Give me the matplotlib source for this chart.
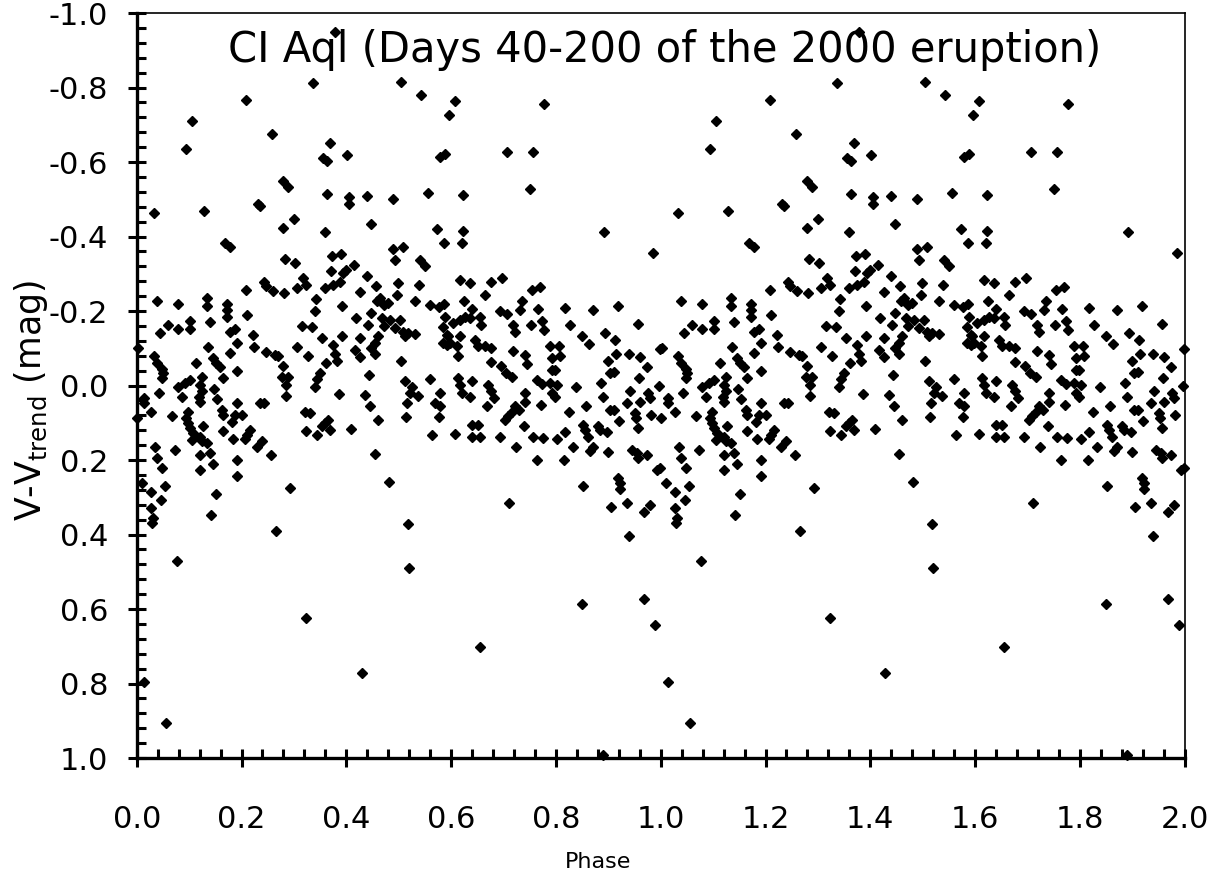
import numpy as np
import matplotlib
matplotlib.use("Agg")
from matplotlib import pyplot as plt
from matplotlib.ticker import MultipleLocator, FormatStrFormatter

plt.rcParams["axes.unicode_minus"] = False
plt.rcParams["mathtext.default"] = "regular"
plt.rcParams["font.family"] = ["DejaVu Sans"]

TITLE = "CI Aql (Days 40-200 of the 2000 eruption)"

# (phase, V - V_trend) for one cycle; the plot shows it twice (phase and phase + 1)
bright_outliers = [
    (0.378, -0.950), (0.336, -0.812), (0.505, -0.816), (0.208, -0.767), (0.106, -0.711),
    (0.258, -0.675), (0.094, -0.636), (0.369, -0.652), (0.355, -0.610), (0.364, -0.604),
    (0.401, -0.619), (0.280, -0.548), (0.289, -0.534), (0.363, -0.514), (0.405, -0.505),
    (0.405, -0.488), (0.440, -0.510), (0.490, -0.501), (0.033, -0.463), (0.128, -0.468),
    (0.232, -0.488), (0.236, -0.483), (0.301, -0.448), (0.279, -0.423), (0.360, -0.413),
    (0.447, -0.433), (0.169, -0.383), (0.178, -0.372), (0.543, -0.779), (0.607, -0.765),
    (0.596, -0.726), (0.777, -0.757), (0.579, -0.613), (0.588, -0.622), (0.707, -0.626),
    (0.757, -0.626), (0.555, -0.516), (0.623, -0.511), (0.751, -0.527), (0.573, -0.420),
    (0.623, -0.415), (0.892, -0.413),
]

faint_outliers = [
    (0.076, 0.470), (0.324, 0.625), (0.429, 0.772), (0.014, 0.795), (0.056, 0.905),
    (0.520, 0.490), (0.656, 0.702), (0.849, 0.587), (0.968, 0.573), (0.989, 0.643),
    (0.889, 0.991), (0.265, 0.390), (0.517, 0.372), (0.711, 0.316), (0.940, 0.405),
    (0.482, 0.260), (0.293, 0.275),
]

band_a = [
    (0.038, -0.227), (0.079, -0.219), (0.134, -0.235), (0.134, -0.214), (0.172, -0.219),
    (0.172, -0.203), (0.172, -0.184), (0.060, -0.163), (0.044, -0.141), (0.078, -0.153),
    (0.102, -0.174), (0.102, -0.153), (0.140, -0.171), (0.178, -0.145), (0.188, -0.151),
    (0.191, -0.114), (0.137, -0.103), (0.003, -0.100), (0.178, -0.087), (0.033, -0.078),
    (0.038, -0.060), (0.048, -0.044), (0.051, -0.033), (0.049, -0.020), (0.113, -0.060),
    (0.146, -0.074), (0.151, -0.060), (0.159, -0.051), (0.165, -0.021), (0.191, -0.038),
    (0.102, -0.015), (0.092, -0.006), (0.079, 0.003), (0.124, -0.024), (0.121, -0.002),
    (0.124, 0.016), (0.118, 0.030), (0.121, 0.043), (0.086, 0.030), (0.043, 0.020),
    (0.148, 0.010), (0.153, 0.036), (0.013, 0.034), (0.013, 0.047), (0.027, 0.070),
    (0.191, 0.047), (0.188, 0.079), (0.181, 0.097), (0.067, 0.083), (0.098, 0.070),
    (0.095, 0.088), (0.098, 0.101), (0.102, 0.114), (0.108, 0.128), (0.105, 0.146),
    (0.127, 0.110), (0.121, 0.137), (0.124, 0.150), (0.134, 0.155), (0.139, 0.180),
    (0.121, 0.186), (0.162, 0.065), (0.165, 0.079), (0.165, 0.123), (0.184, 0.144),
    (0.000, 0.088), (0.035, 0.165), (0.038, 0.195), (0.073, 0.173), (0.048, 0.222),
    (0.121, 0.226), (0.146, 0.211), (0.191, 0.199), (0.191, 0.244), (0.010, 0.262),
    (0.027, 0.285), (0.054, 0.271), (0.046, 0.307), (0.027, 0.329), (0.032, 0.356),
    (0.029, 0.369), (0.151, 0.292), (0.142, 0.347),
]

band_b = [
    (0.283, -0.340), (0.302, -0.329), (0.372, -0.348), (0.390, -0.354), (0.371, -0.308),
    (0.242, -0.279), (0.246, -0.266), (0.261, -0.255), (0.208, -0.257), (0.281, -0.248),
    (0.305, -0.261), (0.318, -0.288), (0.324, -0.270), (0.359, -0.261), (0.375, -0.270),
    (0.388, -0.279), (0.394, -0.302), (0.343, -0.232), (0.340, -0.201), (0.391, -0.214),
    (0.210, -0.188), (0.315, -0.160), (0.334, -0.156), (0.354, -0.127), (0.391, -0.133),
    (0.221, -0.136), (0.223, -0.103), (0.246, -0.091), (0.264, -0.082), (0.270, -0.080),
    (0.280, -0.053), (0.306, -0.103), (0.326, -0.078), (0.375, -0.109), (0.378, -0.085),
    (0.382, -0.067), (0.361, -0.060), (0.277, -0.024), (0.288, -0.024), (0.285, -0.002),
    (0.284, 0.028), (0.350, -0.033), (0.345, -0.017), (0.340, 0.004), (0.387, 0.023),
    (0.200, 0.079), (0.235, 0.046), (0.242, 0.047), (0.321, 0.070), (0.331, 0.074),
    (0.359, 0.101), (0.366, 0.092), (0.369, 0.119), (0.353, 0.108), (0.324, 0.123),
    (0.345, 0.132), (0.216, 0.119), (0.210, 0.132), (0.207, 0.144), (0.239, 0.148),
    (0.229, 0.164), (0.256, 0.187),
]

band_c = [
    (0.587, -0.382), (0.490, -0.366), (0.509, -0.372), (0.493, -0.337), (0.415, -0.324),
    (0.541, -0.336), (0.550, -0.321), (0.399, -0.311), (0.439, -0.293), (0.457, -0.268),
    (0.499, -0.275), (0.539, -0.270), (0.426, -0.250), (0.497, -0.243), (0.464, -0.235),
    (0.458, -0.226), (0.471, -0.217), (0.480, -0.221), (0.531, -0.227), (0.560, -0.217),
    (0.576, -0.210), (0.586, -0.219), (0.418, -0.181), (0.447, -0.194), (0.442, -0.163),
    (0.468, -0.181), (0.483, -0.176), (0.471, -0.160), (0.502, -0.176), (0.493, -0.154),
    (0.509, -0.145), (0.518, -0.141), (0.531, -0.139), (0.512, -0.132), (0.588, -0.185),
    (0.585, -0.158), (0.592, -0.136), (0.585, -0.114), (0.592, -0.109), (0.426, -0.127),
    (0.461, -0.132), (0.455, -0.114), (0.448, -0.100), (0.455, -0.085), (0.417, -0.096),
    (0.427, -0.076), (0.504, -0.067), (0.444, -0.027), (0.512, -0.011), (0.525, 0.003),
    (0.522, 0.020), (0.537, 0.027), (0.560, -0.018), (0.579, 0.020), (0.569, 0.047),
    (0.579, 0.056), (0.577, 0.085), (0.436, 0.025), (0.445, 0.054), (0.515, 0.047),
    (0.514, 0.085), (0.460, 0.092), (0.409, 0.117), (0.563, 0.134), (0.455, 0.183),
]

band_d = [
    (0.620, -0.382), (0.617, -0.284), (0.636, -0.275), (0.676, -0.279), (0.697, -0.288),
    (0.665, -0.243), (0.625, -0.227), (0.754, -0.257), (0.770, -0.264), (0.735, -0.227),
    (0.731, -0.203), (0.765, -0.205), (0.639, -0.205), (0.636, -0.181), (0.627, -0.184),
    (0.617, -0.176), (0.604, -0.169), (0.655, -0.184), (0.657, -0.163), (0.693, -0.199),
    (0.706, -0.192), (0.719, -0.163), (0.722, -0.145), (0.752, -0.163), (0.774, -0.174),
    (0.778, -0.150), (0.595, -0.133), (0.617, -0.133), (0.598, -0.114), (0.611, -0.105),
    (0.614, -0.078), (0.646, -0.123), (0.652, -0.105), (0.665, -0.107), (0.677, -0.100),
    (0.676, -0.064), (0.719, -0.094), (0.741, -0.082), (0.744, -0.058), (0.789, -0.105),
    (0.792, -0.074), (0.695, -0.053), (0.704, -0.033), (0.716, -0.024), (0.614, -0.020),
    (0.617, -0.002), (0.620, 0.020), (0.636, 0.030), (0.639, -0.011), (0.671, -0.002),
    (0.676, 0.016), (0.682, 0.034), (0.668, 0.056), (0.763, -0.015), (0.773, -0.005),
    (0.789, -0.006), (0.793, -0.042), (0.792, 0.020), (0.741, 0.019), (0.741, 0.043),
    (0.772, 0.052), (0.722, 0.056), (0.730, 0.065), (0.716, 0.072), (0.709, 0.083),
    (0.703, 0.092), (0.739, 0.110), (0.607, 0.130), (0.639, 0.105), (0.652, 0.105),
    (0.639, 0.137), (0.655, 0.137), (0.693, 0.137), (0.723, 0.165), (0.757, 0.137),
    (0.776, 0.141), (0.763, 0.199),
]

band_e = [
    (0.986, -0.355), (0.817, -0.209), (0.870, -0.203), (0.918, -0.214), (0.956, -0.166),
    (0.827, -0.163), (0.850, -0.134), (0.864, -0.111), (0.894, -0.141), (0.913, -0.123),
    (0.805, -0.107), (0.808, -0.078), (0.798, -0.042), (0.802, -0.002), (0.798, 0.030),
    (0.915, -0.085), (0.940, -0.084), (0.961, -0.076), (0.973, -0.051), (0.899, -0.066),
    (0.999, -0.098), (0.903, -0.033), (0.910, -0.035), (0.959, -0.021), (0.838, 0.003),
    (0.887, -0.006), (0.890, 0.030), (0.941, 0.014), (0.935, 0.047), (0.961, 0.045),
    (0.976, 0.019), (0.980, 0.034), (0.997, 0.001), (0.857, 0.054), (0.825, 0.072),
    (0.903, 0.065), (0.910, 0.065), (0.951, 0.074), (0.953, 0.088), (0.981, 0.079),
    (0.920, 0.095), (0.957, 0.113), (0.852, 0.105), (0.856, 0.119), (0.862, 0.137),
    (0.881, 0.110), (0.884, 0.119), (0.897, 0.125), (0.817, 0.126), (0.803, 0.144),
    (0.833, 0.165), (0.871, 0.164), (0.865, 0.175), (0.900, 0.178), (0.945, 0.173),
    (0.954, 0.182), (0.957, 0.195), (0.973, 0.186), (0.815, 0.199), (0.992, 0.226),
    (0.999, 0.222), (0.919, 0.249), (0.922, 0.262), (0.922, 0.278), (0.851, 0.271),
    (0.936, 0.316), (0.905, 0.327), (0.980, 0.320), (0.968, 0.340),
]

all_points = bright_outliers + faint_outliers + band_a + band_b + band_c + band_d + band_e
phase = np.array([p for p, _ in all_points])
dv = np.array([v for _, v in all_points])

fig = plt.figure(figsize=(12.25, 8.81), dpi=100)
ax = fig.add_axes([0.1116, 0.1396, 0.8555, 0.8456])

for shift in (0.0, 1.0):
    ax.plot(phase + shift, dv, ls="none", marker="D", ms=5.6,
            color="black", clip_on=False, zorder=3)

ax.set_xlim(0.0, 2.0)
ax.set_ylim(1.0, -1.0)

ax.xaxis.set_major_locator(MultipleLocator(0.2))
ax.xaxis.set_minor_locator(MultipleLocator(0.04))
ax.yaxis.set_major_locator(MultipleLocator(0.2))
ax.yaxis.set_minor_locator(MultipleLocator(0.04))
ax.xaxis.set_major_formatter(FormatStrFormatter("%.1f"))
ax.yaxis.set_major_formatter(FormatStrFormatter("%.1f"))

ax.tick_params(which="major", direction="inout", length=13, width=2.2,
               labelsize=22, top=False, right=False)
ax.tick_params(axis="x", which="major", pad=27)
ax.tick_params(axis="y", which="major", pad=14)
ax.tick_params(which="minor", direction="in", length=6.5, width=2.2,
               top=False, right=False)

for side in ("left", "bottom"):
    ax.spines[side].set_linewidth(2.4)
for side in ("top", "right"):
    ax.spines[side].set_linewidth(1.2)

ax.text(0.504, 0.95, TITLE, transform=ax.transAxes, ha="center", va="center",
        fontsize=30)

fig.text(31 / 1225, 1 - 400 / 881, "V-V$_{trend}$ (mag)", rotation=90,
         ha="center", va="center", fontsize=25)
fig.text(598 / 1225, 1 - 862 / 881, "Phase", ha="center", va="center", fontsize=16)

fig.savefig("out.png", dpi=100)
